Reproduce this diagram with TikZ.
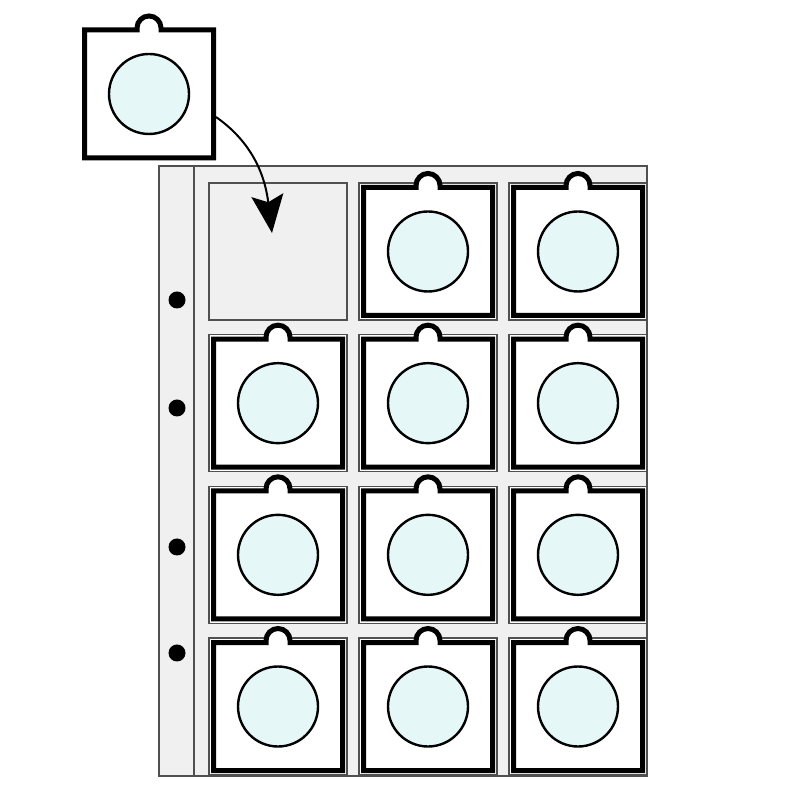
\documentclass[tikz,border=0pt]{standalone}
\usetikzlibrary{arrows.meta}
\definecolor{sheetgray}{HTML}{F0F0F0}
\definecolor{edgegray}{HTML}{505050}
\definecolor{coinblue}{HTML}{E6F7F8}

% Khung giữ xu, tâm tại (#1,#2)
\newcommand{\coinholder}[2]{%
  \begin{scope}[shift={(#1,#2)}]
    \filldraw[holder] (-0.645,0.64) -- (-0.12,0.64) -- ++(0,0.02)
      arc[start angle=180, end angle=0, radius=0.12] -- (0.12,0.64)
      -- (0.645,0.64) -- (0.645,-0.64) -- (-0.645,-0.64) -- cycle;
    \filldraw[coin] (0,0) circle (0.40);
  \end{scope}}

\begin{document}
\begin{tikzpicture}[
    sheet/.style={fill=sheetgray, draw=edgegray, line width=0.45pt},
    pocket/.style={draw=edgegray, line width=0.45pt},
    holder/.style={fill=white, draw=black, line width=0.05cm},
    coin/.style={fill=coinblue, draw=black, line width=0.024cm}]
				\useasboundingbox (0,0) rectangle (8,8);
				
				% Tờ album
				\filldraw[sheet] (1.59,0.24) rectangle (6.47,6.34);
				\draw[pocket] (1.94,0.24) -- (1.94,6.34);
				
				% Lỗ đóng gáy
				\foreach \y in {5.00,3.92,2.53,1.47}
				\fill (1.77,\y) circle (0.085);
				
				% Các ngăn
				\foreach \c in {0,1,2}
				\foreach \r in {0,1,2,3} {
					\pgfmathsetmacro{\px}{2.78+1.5*\c}
					\pgfmathsetmacro{\py}{5.485-1.5167*\r}
					\ifnum\c\r=00
						\filldraw[sheet] (\px-0.69,\py-0.685) rectangle (\px+0.69,\py+0.685);
					\else
						\filldraw[pocket, fill=white] (\px-0.69,\py-0.685) rectangle (\px+0.69,\py+0.685);
						\coinholder{\px}{\py}
					\fi
				}
				
				% Khung giữ xu rời
				\coinholder{1.49}{7.06}
				
				% Mũi tên
				\coordinate (hold) at (2.16,6.83);
				\coordinate (slot) at (2.72,5.67);
				\draw[line width=0.02cm, -{Stealth[length=3.8mm, width=3.2mm, inset=0.7mm]}]
					(hold) to[out=-35, in=97] (slot);
			\end{tikzpicture}
\end{document}
